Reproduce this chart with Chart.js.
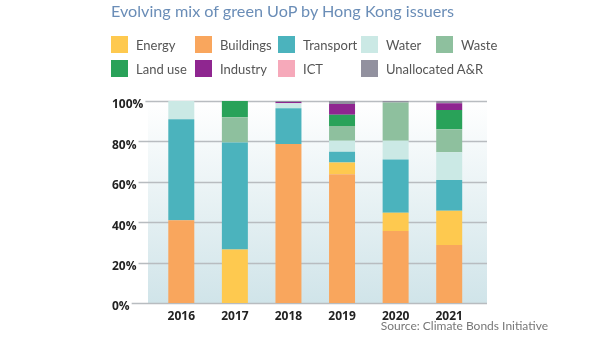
<!DOCTYPE html>
<html>
<head>
<meta charset="utf-8">
<script src="https://cdn.jsdelivr.net/npm/chart.js@4"></script>
<style>
  body { margin: 0; background: #fff; }
  #wrap { position: relative; width: 600px; height: 340px; overflow: hidden; font-family: Lato, "Open Sans", sans-serif; }
  #chart { position: absolute; left: 0; top: 0; }
  #title { position: absolute; left: 111px; top: 1px; font-size: 16.2px; color: #6a8db7; white-space: nowrap; }
  #legend { position: absolute; left: 111px; top: 36px; display: grid; grid-template-columns: 84px 83px 83px 75px 80px; row-gap: 7px; }
  .item { display: flex; align-items: center; height: 17px; font-size: 13px; color: #555; white-space: nowrap; }
  .box { width: 17px; height: 17px; margin-right: 8px; flex: none; }
  #source { position: absolute; right: 52px; top: 318px; font-size: 12px; color: #777; }
</style>
</head>
<body>
<div id="wrap">
  <canvas id="chart" width="600" height="340"></canvas>
  <div id="title">Evolving mix of green UoP by Hong Kong issuers</div>
  <div id="legend"></div>
  <div id="source">Source: Climate Bonds Initiative</div>
</div>
<script>
// years on the x axis
const years = ['2016', '2017', '2018', '2019', '2020', '2021'];

// share of green UoP per year (%)
const buildings   = [41,   0,    78.7, 63.7, 35.6, 28.7];
const energy      = [0,    26.5, 0,    5.8,  9.1,  17];
const transport   = [50,   53,   17.7, 5.4,  26.4, 15.2];
const water       = [9,    0,    2.5,  5.4,  9.2,  13.7];
const waste       = [0,    12.5, 0,    7.3,  19,   11.4];
const landUse     = [0,    8,    0,    5.6,  0,    9.5];
const industry    = [0,    0,    0.6,  5.3,  0,    3.4];
const ict         = [0,    0,    0,    0,    0,    0];
const unallocated = [0,    0,    0.5,  1.5,  0.7,  1.1];

const yTicks = [0, 20, 40, 60, 80, 100];

// legend reads in this order, stacking goes bottom -> top in dataset order
const legendOrder = ['Energy', 'Buildings', 'Transport', 'Water', 'Waste', 'Land use', 'Industry', 'ICT', 'Unallocated A&R'];

const colors = {
    'Energy': '#fec94f',
    'Buildings': '#f9a65d',
    'Transport': '#4bb3bd',
    'Water': '#cbe9e5',
    'Waste': '#8ec09e',
    'Land use': '#29a259',
    'Industry': '#8f2690',
    'ICT': '#f6a9ba',
    'Unallocated A&R': '#92919f'
};

const series = [
    ['Buildings', buildings],
    ['Energy', energy],
    ['Transport', transport],
    ['Water', water],
    ['Waste', waste],
    ['Land use', landUse],
    ['Industry', industry],
    ['ICT', ict],
    ['Unallocated A&R', unallocated]
];

// html legend
const legendEl = document.getElementById('legend');
legendOrder.forEach(name => {
    const item = document.createElement('div');
    item.className = 'item';
    item.innerHTML = `<span class="box" style="background:${colors[name]}"></span><span>${name}</span>`;
    legendEl.appendChild(item);
});

// background gradient + grid lines that run out under the tick labels
const backdrop = {
    id: 'backdrop',
    beforeDraw(chart) {
        const { ctx, scales: { y } } = chart;
        const top = y.getPixelForValue(100);
        const bottom = y.getPixelForValue(0);
        const left = 148, right = 487;
        const grad = ctx.createLinearGradient(0, top, 0, bottom);
        grad.addColorStop(0, '#ffffff');
        grad.addColorStop(1, '#d0e4e9');
        ctx.save();
        ctx.fillStyle = grad;
        ctx.fillRect(left, top, right - left, bottom - top);
        ctx.strokeStyle = '#b8bcc0';
        ctx.lineWidth = 1.5;
        yTicks.forEach(v => {
            const py = Math.round(y.getPixelForValue(v)) + 0.5;
            ctx.beginPath();
            ctx.moveTo(112, py);
            ctx.lineTo(right, py);
            ctx.stroke();
        });
        ctx.restore();
    }
};

new Chart(document.getElementById('chart'), {
    type: 'bar',
    data: {
        labels: years,
        datasets: series.map(([name, data]) => ({
            label: name,
            data: data,
            backgroundColor: colors[name],
            borderWidth: 0,
            barPercentage: 0.485,
            categoryPercentage: 1
        }))
    },
    options: {
        responsive: false,
        animation: false,
        layout: { padding: { left: 112, right: 124, top: 101, bottom: 12 } },
        plugins: {
            legend: { display: false },
            tooltip: { enabled: false },
            title: { display: false }
        },
        scales: {
            x: {
                stacked: true,
                grid: { display: false, drawTicks: false },
                border: { display: false },
                ticks: {
                    padding: 6,
                    color: '#222',
                    font: { family: 'Open Sans', size: 12, weight: 'bold' }
                },
                afterFit: s => { s.height = 25; }
            },
            y: {
                stacked: true,
                min: 0,
                max: 100,
                grid: { display: false, drawTicks: false },
                border: { display: false },
                afterBuildTicks: s => { s.ticks = yTicks.map(v => ({ value: v })); },
                ticks: {
                    crossAlign: 'far',
                    labelOffset: 4,
                    padding: 0,
                    color: '#222',
                    font: { family: 'Open Sans', size: 12, weight: 'bold' },
                    showLabelBackdrop: true,
                    backdropColor: '#ffffff',
                    backdropPadding: { left: 1, right: 2, top: 0, bottom: 0 },
                    callback: v => v + '%'
                },
                afterFit: s => { s.width = 42.5; }
            }
        }
    },
    plugins: [backdrop]
});
</script>
</body>
</html>
